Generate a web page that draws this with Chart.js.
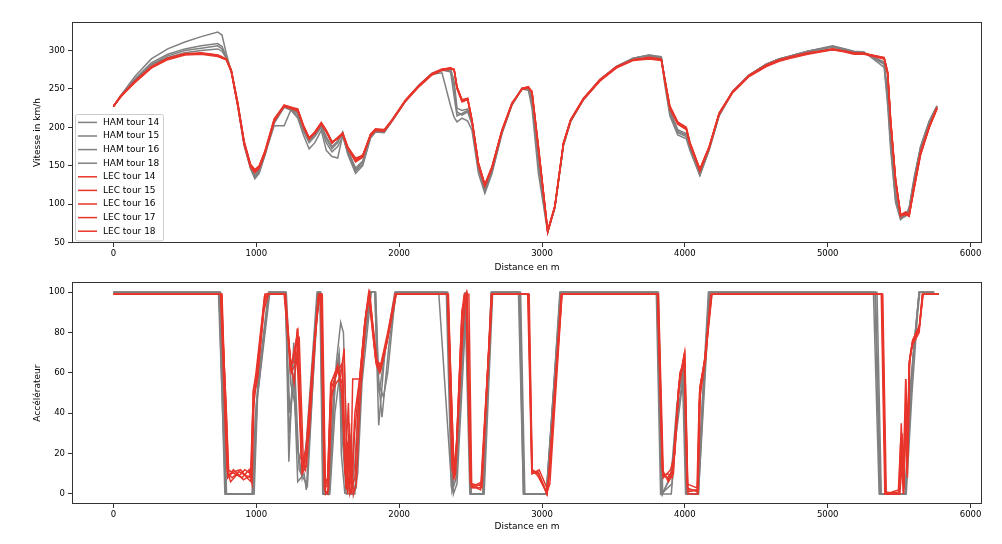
<!DOCTYPE html>
<html>
<head>
<meta charset="utf-8">
<script src="https://cdn.jsdelivr.net/npm/chart.js@4.4.0/dist/chart.umd.min.js"></script>
<style>
  html, body { margin: 0; padding: 0; background: #fff; }
  #speedBox { position: absolute; left: 0; top: 0; }
  #throttleBox { position: absolute; left: 0; top: 274px; }
</style>
</head>
<body>
<div id="speedBox"><canvas id="speedChart" width="1002" height="274"></canvas></div>
<div id="throttleBox"><canvas id="throttleChart" width="1002" height="270"></canvas></div>
<script>
// ---- data ----
const hamLabels = ["HAM tour 14", "HAM tour 15", "HAM tour 16", "HAM tour 18"];
const lecLabels = ["LEC tour 14", "LEC tour 15", "LEC tour 16", "LEC tour 17", "LEC tour 18"];

// tick labels
const distTicks = [0, 1000, 2000, 3000, 4000, 5000, 6000];
const speedTicks = [50, 100, 150, 200, 250, 300];
const throttleTicks = [0, 20, 40, 60, 80, 100];

// distance (m) of the speed samples, shared by every lap
const speedDist = [
  0, 50, 150, 265, 380, 500, 615, 730, 760, 790,
  825, 870, 915, 960, 990, 1020, 1060, 1125, 1195, 1245,
  1290, 1330, 1370, 1410, 1455, 1490, 1530, 1570, 1605, 1640,
  1695, 1745, 1800, 1835, 1895, 1950, 2045, 2140, 2230, 2300,
  2360, 2385, 2405, 2440, 2480, 2510, 2555, 2600, 2650, 2720,
  2790, 2860, 2905, 2930, 2975, 3040, 3090, 3150, 3200, 3290,
  3405, 3520, 3640, 3750, 3835, 3860, 3895, 3950, 4010, 4035,
  4105, 4170, 4240, 4335, 4450, 4570, 4660, 4745, 4860, 5035,
  5120, 5185, 5255, 5395, 5420, 5440, 5475, 5510, 5545, 5570,
  5605, 5650, 5710, 5765
];

// speed in km/h
const ham14Speed = [
  227, 241, 266, 289, 302, 311, 318, 324, 320, 296,
  272, 228, 176, 146, 133, 140, 163, 205, 226, 222,
  212, 190, 172, 180, 196, 170, 162, 160, 190, 165,
  140, 150, 186, 194, 193, 208, 234, 254, 269, 271,
  228, 213, 207, 212, 208, 196, 140, 114, 140, 192,
  229, 250, 248, 225, 140, 63, 95, 176, 207, 236,
  261, 279, 290, 293, 290, 255, 215, 190, 185, 170,
  137, 170, 215, 246, 268, 282, 289, 293, 299, 305,
  302, 299, 298, 278, 228, 172, 102, 80, 86, 96,
  135, 175, 208, 228
];
const ham15Speed = [
  227, 240, 263, 284, 295, 302, 306, 309, 305, 292,
  273, 230, 178, 147, 135, 142, 165, 202, 202, 224,
  218, 198, 185, 192, 203, 185, 172, 180, 194, 170,
  145, 155, 188, 195, 194, 208, 235, 255, 270, 275,
  272, 240, 215, 218, 222, 205, 148, 118, 144, 194,
  230, 251, 250, 232, 152, 65, 96, 177, 208, 237,
  262, 279, 290, 294, 292, 262, 220, 195, 190, 175,
  139, 172, 216, 247, 268, 282, 289, 293, 299, 305,
  301, 298, 297, 284, 240, 185, 110, 82, 84, 92,
  130, 172, 205, 227
];
const ham16Speed = [
  227, 240, 262, 282, 293, 300, 303, 306, 302, 291,
  273, 230, 179, 148, 136, 143, 165, 207, 227, 223,
  215, 195, 180, 188, 200, 180, 168, 175, 188, 168,
  143, 152, 187, 195, 194, 208, 234, 254, 269, 274,
  274, 252, 220, 216, 220, 204, 146, 116, 142, 193,
  230, 250, 250, 235, 155, 64, 96, 177, 208, 236,
  261, 279, 290, 294, 291, 260, 218, 193, 188, 173,
  138, 171, 216, 246, 268, 282, 289, 293, 299, 306,
  302, 298, 297, 282, 235, 180, 106, 81, 85, 94,
  132, 174, 207, 228
];
const ham18Speed = [
  227, 240, 261, 281, 291, 297, 300, 302, 299, 290,
  274, 231, 180, 149, 138, 145, 166, 208, 227, 224,
  220, 199, 183, 190, 202, 188, 175, 182, 192, 171,
  147, 156, 188, 196, 195, 209, 235, 255, 270, 275,
  276, 260, 225, 222, 224, 206, 150, 119, 145, 195,
  231, 250, 251, 238, 160, 65, 97, 178, 209, 237,
  262, 279, 290, 293, 290, 262, 222, 197, 192, 177,
  140, 172, 217, 247, 268, 282, 289, 292, 298, 304,
  301, 298, 297, 285, 245, 190, 115, 83, 86, 93,
  132, 173, 206, 227
];
const lec14Speed = [
  227, 240, 259, 278, 289, 295, 296, 293, 291, 289,
  274, 231, 180, 150, 143, 148, 167, 209, 228, 225,
  223, 201, 185, 193, 205, 195, 180, 186, 192, 174,
  155, 161, 190, 197, 196, 209, 235, 254, 269, 275,
  277, 275, 252, 235, 237, 209, 153, 125, 148, 196,
  231, 250, 252, 246, 174, 64, 97, 179, 209, 237,
  261, 278, 288, 290, 288, 261, 226, 205, 198, 179,
  144, 174, 218, 246, 267, 280, 287, 291, 296, 302,
  299, 296, 296, 290, 270, 209, 131, 85, 89, 86,
  122, 166, 200, 225
];
const lec15Speed = [
  227, 241, 260, 279, 290, 295, 297, 294, 292, 288,
  272, 228, 178, 148, 141, 147, 166, 208, 229, 226,
  222, 200, 186, 194, 206, 196, 181, 185, 191, 172,
  157, 163, 191, 198, 197, 210, 236, 255, 270, 276,
  277, 274, 250, 233, 236, 207, 150, 123, 147, 195,
  230, 251, 253, 245, 170, 66, 98, 180, 210, 238,
  262, 279, 288, 291, 289, 263, 228, 207, 200, 181,
  146, 175, 219, 247, 268, 281, 288, 292, 297, 301,
  299, 297, 296, 291, 272, 212, 133, 87, 86, 88,
  120, 164, 199, 224
];
const lec16Speed = [
  228, 240, 258, 277, 288, 294, 295, 292, 290, 288,
  273, 230, 181, 151, 144, 149, 168, 210, 227, 224,
  221, 202, 187, 192, 204, 194, 179, 187, 193, 175,
  158, 164, 189, 196, 195, 208, 234, 253, 268, 274,
  276, 276, 253, 236, 238, 210, 154, 126, 149, 197,
  232, 249, 251, 247, 176, 65, 96, 178, 208, 236,
  260, 277, 287, 289, 287, 259, 224, 204, 197, 178,
  143, 173, 217, 245, 266, 279, 286, 290, 295, 301,
  298, 295, 295, 289, 268, 206, 129, 84, 88, 85,
  124, 168, 201, 226
];
const lec17Speed = [
  227, 239, 259, 278, 290, 296, 296, 294, 291, 289,
  275, 233, 182, 152, 145, 150, 169, 211, 229, 226,
  224, 203, 186, 194, 206, 196, 181, 186, 191, 173,
  156, 162, 190, 197, 196, 209, 235, 254, 269, 275,
  277, 275, 251, 234, 236, 208, 152, 124, 147, 195,
  231, 250, 252, 246, 172, 63, 97, 179, 209, 237,
  261, 278, 288, 290, 288, 262, 227, 206, 199, 180,
  145, 174, 218, 246, 267, 280, 287, 291, 296, 302,
  299, 296, 296, 290, 271, 210, 132, 86, 87, 84,
  121, 165, 200, 225
];
const lec18Speed = [
  227, 240, 260, 278, 289, 295, 296, 293, 290, 288,
  273, 229, 179, 149, 142, 147, 166, 208, 228, 225,
  223, 201, 185, 193, 205, 194, 180, 186, 192, 174,
  160, 163, 191, 197, 196, 209, 235, 254, 269, 275,
  277, 275, 252, 235, 237, 209, 153, 125, 148, 196,
  231, 250, 252, 245, 173, 65, 97, 179, 209, 237,
  261, 278, 288, 290, 288, 261, 226, 205, 198, 179,
  144, 174, 218, 246, 267, 280, 287, 291, 296, 302,
  299, 296, 296, 290, 270, 209, 131, 86, 90, 87,
  123, 167, 200, 225
];

// throttle in %, as [distance, value] pairs
const ham14Throttle = [[0,100],[735,100],[785,0],[975,0],[1000,45],[1090,100],[1205,100],[1228,16],[1262,75],[1300,12],[1358,4],[1430,100],[1450,100],[1470,0],[1510,0],[1560,65],[1591,85],[1610,80],[1640,5],[1670,0],[1700,3],[1735,60],[1800,100],[1830,100],[1857,34],[1900,70],[1975,100],[2277,100],[2370,1],[2400,8],[2470,100],[2500,0],[2590,0],[2650,100],[2835,100],[2870,0],[3030,0],[3130,100],[3800,100],[3830,0],[3905,0],[3950,40],[3990,60],[4010,0],[4090,0],[4170,100],[5320,100],[5360,0],[5540,0],[5600,70],[5640,100],[5745,100]];
const ham15Throttle = [[0,100],[745,100],[790,0],[980,0],[1010,55],[1085,100],[1200,100],[1235,40],[1265,60],[1285,25],[1320,8],[1345,20],[1425,100],[1445,100],[1465,0],[1505,0],[1545,55],[1580,70],[1600,40],[1625,10],[1655,0],[1690,0],[1745,70],[1795,100],[1835,100],[1860,50],[1905,72],[1970,100],[2330,100],[2365,5],[2390,10],[2460,100],[2495,0],[2585,0],[2645,100],[2845,100],[2875,0],[3035,0],[3125,100],[3805,100],[3835,0],[3910,5],[3955,50],[3995,62],[4015,0],[4085,0],[4165,100],[5345,100],[5375,0],[5545,0],[5595,65],[5640,100],[5745,100]];
const ham16Throttle = [[0,100],[740,100],[780,0],[970,0],[995,40],[1095,100],[1210,100],[1240,55],[1270,45],[1290,6],[1335,10],[1350,2],[1435,100],[1450,100],[1475,0],[1515,0],[1550,40],[1585,60],[1595,20],[1620,0],[1665,30],[1680,0],[1710,10],[1740,55],[1805,100],[1830,100],[1850,60],[1880,38],[1930,75],[1980,100],[2335,100],[2375,2],[2395,15],[2465,100],[2500,0],[2595,0],[2655,100],[2850,100],[2880,0],[3030,0],[3135,100],[3810,100],[3840,0],[3900,8],[3940,30],[3985,55],[4005,0],[4095,0],[4175,100],[5330,100],[5365,0],[5550,0],[5590,50],[5630,90],[5645,100],[5745,100]];
const ham18Throttle = [[0,100],[750,100],[792,0],[985,0],[1010,50],[1088,100],[1205,100],[1230,30],[1258,55],[1295,20],[1330,15],[1360,30],[1430,100],[1448,100],[1468,0],[1508,0],[1555,60],[1575,65],[1600,30],[1630,0],[1660,0],[1690,15],[1720,50],[1785,95],[1800,100],[1835,100],[1855,55],[1890,48],[1920,60],[1975,100],[2340,100],[2380,0],[2405,5],[2475,100],[2505,0],[2590,0],[2645,100],[2840,100],[2870,0],[3030,0],[3128,100],[3815,100],[3845,0],[3905,10],[3945,45],[3992,64],[4012,0],[4095,0],[4168,100],[5335,100],[5370,0],[5545,0],[5580,55],[5610,78],[5640,100],[5745,100]];
const lec14Throttle = [[0,99],[755,99],[790,40],[805,10],[830,8],[880,11],[930,9],[965,8],[980,52],[1000,58],[1060,99],[1200,99],[1242,63],[1270,70],[1289,82],[1323,12],[1350,18],[1400,70],[1440,99],[1455,99],[1480,5],[1500,8],[1521,55],[1568,62],[1600,55],[1630,5],[1650,30],[1665,2],[1690,40],[1720,55],[1760,85],[1790,99],[1840,66],[1870,62],[1920,78],[1975,99],[2340,99],[2385,10],[2400,20],[2440,90],[2470,99],[2500,5],[2520,3],[2575,5],[2650,99],[2905,99],[2930,11],[2975,10],[3035,0],[3050,10],[3138,99],[3810,99],[3845,10],[3880,8],[3915,12],[3960,55],[3998,70],[4020,2],[4090,2],[4105,52],[4140,67],[4185,99],[5380,99],[5405,0],[5500,0],[5520,30],[5535,3],[5546,57],[5560,20],[5570,65],[5592,75],[5640,82],[5665,99],[5778,99]];
const lec15Throttle = [[0,99],[760,99],[800,8],[840,12],[880,9],[920,12],[960,10],[975,40],[1000,55],[1050,90],[1085,99],[1205,99],[1245,60],[1275,65],[1300,78],[1330,15],[1370,30],[1420,85],[1445,99],[1462,99],[1485,0],[1505,2],[1530,50],[1560,55],[1590,58],[1615,72],[1640,0],[1660,20],[1680,0],[1700,5],[1725,45],[1770,90],[1795,99],[1840,64],[1865,60],[1915,75],[1980,99],[2345,99],[2380,8],[2395,10],[2435,70],[2460,95],[2475,99],[2505,3],[2580,3],[2645,99],[2910,99],[2932,10],[2980,12],[3040,2],[3055,5],[3140,99],[3815,99],[3850,8],[3900,12],[3930,20],[3965,60],[3995,66],[4015,5],[4085,3],[4100,45],[4135,62],[4190,99],[5385,99],[5410,0],[5495,2],[5510,25],[5525,5],[5540,40],[5555,10],[5575,68],[5600,77],[5645,84],[5668,99],[5778,99]];
const lec16Throttle = [[0,99],[750,99],[785,30],[800,12],[850,10],[900,8],[950,12],[970,5],[985,50],[1010,58],[1055,95],[1080,99],[1195,99],[1240,65],[1265,55],[1285,70],[1315,18],[1345,12],[1395,65],[1435,99],[1450,99],[1478,2],[1500,0],[1518,45],[1560,60],[1605,65],[1620,10],[1645,45],[1660,5],[1675,57],[1731,57],[1765,88],[1785,99],[1835,67],[1868,63],[1920,80],[1972,99],[2338,99],[2370,12],[2390,8],[2445,80],[2462,99],[2488,99],[2508,4],[2570,2],[2650,99],[2900,99],[2928,12],[2970,9],[3030,1],[3048,8],[3135,99],[3808,99],[3842,12],[3885,6],[3920,10],[3955,52],[4000,69],[4022,0],[4092,0],[4110,55],[4145,66],[4182,99],[5375,99],[5400,0],[5505,0],[5520,15],[5530,0],[5550,50],[5565,30],[5572,66],[5595,74],[5640,80],[5662,99],[5778,99]];
const lec17Throttle = [[0,99],[758,99],[795,12],[820,6],[870,10],[910,7],[955,9],[968,12],[982,48],[1005,56],[1065,99],[1200,99],[1238,62],[1268,72],[1290,80],[1320,10],[1352,14],[1405,72],[1442,99],[1457,99],[1482,3],[1502,5],[1525,55],[1570,64],[1598,50],[1628,3],[1640,26],[1655,0],[1690,8],[1718,50],[1758,84],[1792,99],[1845,66],[1872,64],[1922,79],[1978,99],[2342,99],[2384,12],[2402,25],[2442,92],[2468,99],[2498,6],[2522,4],[2578,6],[2652,99],[2903,99],[2930,10],[2972,11],[3033,0],[3052,12],[3140,99],[3812,99],[3846,9],[3878,10],[3912,8],[3962,56],[3996,68],[4018,3],[4088,1],[4102,50],[4142,68],[4188,99],[5382,99],[5405,1],[5498,0],[5515,35],[5530,0],[5545,45],[5558,8],[5568,62],[5590,74],[5638,81],[5664,99],[5778,99]];
const lec18Throttle = [[0,99],[752,99],[788,45],[808,9],[845,11],[890,12],[935,8],[963,6],[978,50],[998,60],[1058,98],[1075,99],[1198,99],[1242,64],[1272,66],[1288,82],[1318,14],[1348,22],[1398,68],[1438,99],[1453,99],[1478,4],[1498,6],[1522,52],[1566,60],[1602,62],[1632,2],[1652,35],[1668,0],[1688,30],[1722,56],[1762,86],[1788,99],[1838,65],[1870,61],[1918,77],[1976,99],[2340,99],[2382,9],[2398,18],[2438,88],[2455,99],[2472,99],[2502,5],[2576,4],[2648,99],[2906,99],[2931,12],[2976,10],[3036,0],[3049,9],[3137,99],[3810,99],[3844,11],[3882,7],[3916,12],[3958,54],[3997,70],[4020,1],[4090,2],[4106,53],[4138,66],[4186,99],[5378,99],[5404,0],[5502,1],[5518,28],[5532,2],[5546,57],[5560,18],[5571,64],[5593,76],[5642,83],[5666,99],[5778,99]];

const hamSpeed = [ham14Speed, ham15Speed, ham16Speed, ham18Speed];
const lecSpeed = [lec14Speed, lec15Speed, lec16Speed, lec17Speed, lec18Speed];
const hamThrottle = [ham14Throttle, ham15Throttle, ham16Throttle, ham18Throttle];
const lecThrottle = [lec14Throttle, lec15Throttle, lec16Throttle, lec17Throttle, lec18Throttle];

// ---- styling ----
const HAM_COLOR = "#808080";
const LEC_COLOR = "#e8352b";
const FONT = "'DejaVu Sans', Verdana, sans-serif";
const AXIS_COLOR = "#333";

function makeDataset(label, color, points, order) {
  return {
    label: label,
    data: points,
    borderColor: color,
    backgroundColor: color,
    borderWidth: 1.5,
    pointRadius: 0,
    tension: 0,
    fill: false,
    order: order,
  };
}

function speedDatasets() {
  const sets = [];
  hamSpeed.forEach((vals, i) => {
    sets.push(makeDataset(hamLabels[i], HAM_COLOR, speedDist.map((d, k) => ({ x: d, y: vals[k] })), 2));
  });
  lecSpeed.forEach((vals, i) => {
    sets.push(makeDataset(lecLabels[i], LEC_COLOR, speedDist.map((d, k) => ({ x: d, y: vals[k] })), 1));
  });
  return sets;
}

function throttleDatasets() {
  const sets = [];
  hamThrottle.forEach((pairs, i) => {
    sets.push(makeDataset(hamLabels[i], HAM_COLOR, pairs.map(p => ({ x: p[0], y: p[1] })), 2));
  });
  lecThrottle.forEach((pairs, i) => {
    sets.push(makeDataset(lecLabels[i], LEC_COLOR, pairs.map(p => ({ x: p[0], y: p[1] })), 1));
  });
  return sets;
}

// draws the 4-sided frame around the plot area, like matplotlib spines
const framePlugin = {
  id: "frame",
  afterDraw(chart) {
    const a = chart.chartArea;
    const ctx = chart.ctx;
    ctx.save();
    ctx.strokeStyle = AXIS_COLOR;
    ctx.lineWidth = 1;
    ctx.strokeRect(Math.round(a.left) + 0.5, Math.round(a.top) + 0.5,
      Math.round(a.right - a.left) - 1, Math.round(a.bottom - a.top) - 1);
    ctx.restore();
  },
};

// legend box in the lower left corner of the plot area
const boxLegendPlugin = {
  id: "boxLegend",
  afterDraw(chart) {
    const a = chart.chartArea;
    const ctx = chart.ctx;
    const sets = chart.data.datasets;
    const rowH = 13.6;
    const w = 88;
    const h = sets.length * rowH + 4;
    const x = a.left + 3;
    const y = a.bottom - 3 - h;
    ctx.save();
    ctx.fillStyle = "rgba(255,255,255,0.85)";
    ctx.strokeStyle = "#cccccc";
    ctx.lineWidth = 1;
    ctx.beginPath();
    ctx.roundRect(Math.round(x) + 0.5, Math.round(y) + 0.5, w, h, 2);
    ctx.fill();
    ctx.stroke();
    ctx.font = "9px " + FONT;
    ctx.textBaseline = "middle";
    sets.forEach((ds, i) => {
      const cy = y + 2 + rowH * (i + 0.5);
      ctx.strokeStyle = ds.borderColor;
      ctx.lineWidth = 1.5;
      ctx.beginPath();
      ctx.moveTo(x + 3, cy);
      ctx.lineTo(x + 22, cy);
      ctx.stroke();
      ctx.fillStyle = "#000";
      ctx.fillText(ds.label, x + 28, cy);
    });
    ctx.restore();
  },
};

function makeOptions(cfg) {
  const tickFont = { family: FONT, size: 8.5 };
  const titleFont = { family: FONT, size: 9 };
  return {
    responsive: false,
    animation: false,
    events: [],
    layout: { padding: { left: 0, right: 20, top: cfg.top, bottom: 0 } },
    plugins: { legend: { display: false }, tooltip: { enabled: false } },
    scales: {
      x: {
        type: "linear",
        min: -290,
        max: 6080,
        afterBuildTicks: s => { s.ticks = distTicks.map(v => ({ value: v })); },
        ticks: {
          maxRotation: 0,
          autoSkip: false,
          padding: 2,
          color: "#000",
          font: tickFont,
          callback: v => String(v),
        },
        grid: { display: true, drawOnChartArea: false, drawTicks: true, tickLength: 4, color: AXIS_COLOR },
        border: { display: false },
        title: { display: true, text: "Distance en m", color: "#000", font: titleFont, padding: { top: 0, bottom: cfg.xTitlePad } },
        afterFit: s => { s.height = cfg.xHeight; },
      },
      y: {
        type: "linear",
        min: cfg.yMin,
        max: cfg.yMax,
        afterBuildTicks: s => { s.ticks = cfg.yTicks.map(v => ({ value: v })); },
        ticks: {
          autoSkip: false,
          padding: 3,
          color: "#000",
          font: tickFont,
          callback: v => String(v),
        },
        grid: { display: true, drawOnChartArea: false, drawTicks: true, tickLength: 4, color: AXIS_COLOR },
        border: { display: false },
        title: { display: true, text: cfg.yTitle, color: "#000", font: titleFont, padding: { top: 32.5, bottom: 0 } },
        afterFit: s => { s.width = 72; },
      },
    },
  };
}

new Chart(document.getElementById("speedChart").getContext("2d"), {
  type: "line",
  data: { datasets: speedDatasets() },
  options: makeOptions({ top: 22, xHeight: 31, xTitlePad: 0.6, yMin: 49.5, yMax: 337, yTicks: speedTicks, yTitle: "Vitesse in km/h" }),
  plugins: [framePlugin, boxLegendPlugin],
});

new Chart(document.getElementById("throttleChart").getContext("2d"), {
  type: "line",
  data: { datasets: throttleDatasets() },
  options: makeOptions({ top: 8, xHeight: 40, xTitlePad: 11.6, yMin: -5, yMax: 105, yTicks: throttleTicks, yTitle: "Accélérateur" }),
  plugins: [framePlugin],
});
</script>
</body>
</html>
